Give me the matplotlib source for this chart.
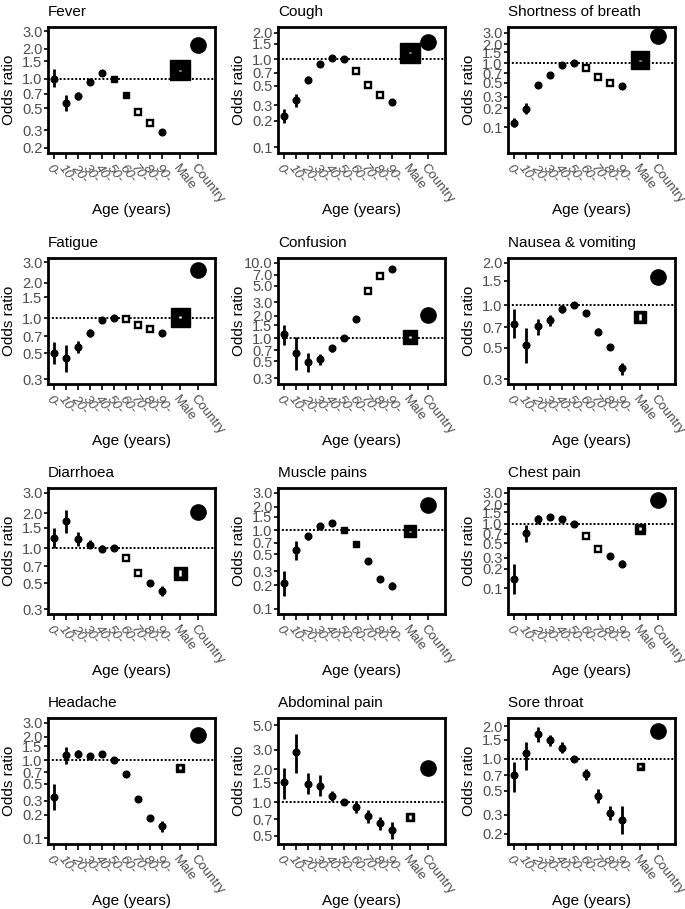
import matplotlib
matplotlib.use("Agg")
import matplotlib.pyplot as plt
from matplotlib.ticker import FixedLocator, NullLocator, FormatStrFormatter

plt.rcParams['font.family'] = ['Liberation Sans', 'DejaVu Sans']

age_groups = ["0-", "10-", "20-", "30-", "40-", "50-", "60-", "70-", "80-", "90-"]
extra_labels = ["Male", "Country"]
symptoms = ["Fever", "Cough", "Shortness of breath", "Fatigue", "Confusion",
            "Nausea & vomiting", "Diarrhoea", "Muscle pains", "Chest pain",
            "Headache", "Abdominal pain", "Sore throat"]

# odds ratios by age group (50- is reference), with lower / upper CI
fever_or = [1.0, 0.57, 0.67, 0.925, 1.13, 1.0, 0.69, 0.46, 0.354, 0.289]
fever_lo = [0.83, 0.47, 0.61, 0.86, 1.06, 1.0, 0.67, 0.44, 0.34, 0.275]
fever_hi = [1.26, 0.69, 0.73, 0.98, 1.2, 1.0, 0.71, 0.48, 0.37, 0.3]

cough_or = [0.228, 0.34, 0.584, 0.886, 1.026, 1.0, 0.738, 0.51, 0.395, 0.329]
cough_lo = [0.19, 0.286, 0.535, 0.826, 0.97, 1.0, 0.72, 0.49, 0.38, 0.315]
cough_hi = [0.27, 0.405, 0.636, 0.94, 1.09, 1.0, 0.76, 0.53, 0.41, 0.345]

sob_or = [0.118, 0.197, 0.46, 0.66, 0.93, 1.0, 0.857, 0.607, 0.49, 0.446]
sob_lo = [0.1, 0.16, 0.43, 0.63, 0.9, 1.0, 0.83, 0.58, 0.47, 0.43]
sob_hi = [0.142, 0.24, 0.5, 0.69, 0.96, 1.0, 0.88, 0.63, 0.51, 0.46]

fatigue_or = [0.5, 0.451, 0.562, 0.742, 0.955, 1.0, 0.987, 0.88, 0.8, 0.742]
fatigue_lo = [0.403, 0.346, 0.5, 0.69, 0.9, 1.0, 0.95, 0.85, 0.77, 0.7]
fatigue_hi = [0.62, 0.588, 0.63, 0.8, 1.02, 1.0, 1.02, 0.91, 0.83, 0.79]

confusion_or = [1.13, 0.647, 0.49, 0.53, 0.738, 1.0, 1.8, 4.22, 6.74, 8.4]
confusion_lo = [0.816, 0.38, 0.36, 0.45, 0.66, 1.0, 1.65, 4.0, 6.4, 7.8]
confusion_hi = [1.53, 1.05, 0.647, 0.62, 0.82, 1.0, 1.95, 4.45, 7.1, 9.0]

nausea_or = [0.74, 0.525, 0.71, 0.782, 0.947, 1.0, 0.887, 0.653, 0.505, 0.358]
nausea_lo = [0.585, 0.388, 0.62, 0.72, 0.89, 1.0, 0.85, 0.62, 0.48, 0.32]
nausea_hi = [0.936, 0.69, 0.8, 0.85, 1.01, 1.0, 0.93, 0.69, 0.53, 0.39]

diarrhoea_or = [1.23, 1.73, 1.2, 1.076, 0.99, 1.0, 0.825, 0.612, 0.5, 0.43]
diarrhoea_lo = [1.0, 1.36, 1.05, 1.0, 0.93, 1.0, 0.8, 0.59, 0.48, 0.39]
diarrhoea_hi = [1.5, 2.16, 1.37, 1.17, 1.06, 1.0, 0.85, 0.64, 0.52, 0.47]

muscle_or = [0.215, 0.566, 0.84, 1.136, 1.24, 1.0, 0.676, 0.406, 0.241, 0.198]
muscle_lo = [0.148, 0.42, 0.76, 1.06, 1.18, 1.0, 0.65, 0.39, 0.23, 0.18]
muscle_hi = [0.3, 0.73, 0.92, 1.22, 1.3, 1.0, 0.7, 0.42, 0.255, 0.22]

chest_or = [0.139, 0.718, 1.166, 1.27, 1.166, 1.0, 0.64, 0.41, 0.314, 0.242]
chest_lo = [0.082, 0.52, 1.0, 1.18, 1.08, 1.0, 0.6, 0.39, 0.3, 0.215]
chest_hi = [0.234, 0.94, 1.35, 1.38, 1.25, 1.0, 0.68, 0.43, 0.33, 0.27]

headache_or = [0.334, 1.16, 1.19, 1.136, 1.19, 1.0, 0.663, 0.315, 0.18, 0.141]
headache_lo = [0.23, 0.88, 1.07, 1.05, 1.12, 1.0, 0.63, 0.3, 0.165, 0.118]
headache_hi = [0.49, 1.48, 1.33, 1.23, 1.27, 1.0, 0.7, 0.33, 0.195, 0.168]

abdominal_or = [1.52, 2.86, 1.48, 1.42, 1.14, 1.0, 0.9, 0.75, 0.645, 0.565]
abdominal_lo = [1.07, 1.85, 1.19, 1.15, 1.02, 1.0, 0.8, 0.65, 0.56, 0.47]
abdominal_hi = [2.06, 4.16, 1.85, 1.77, 1.28, 1.0, 1.02, 0.86, 0.74, 0.66]

sore_or = [0.7, 1.13, 1.69, 1.5, 1.27, 1.0, 0.715, 0.45, 0.31, 0.268]
sore_lo = [0.49, 0.79, 1.43, 1.32, 1.13, 1.0, 0.63, 0.39, 0.27, 0.2]
sore_hi = [0.93, 1.43, 1.98, 1.68, 1.43, 1.0, 0.8, 0.52, 0.36, 0.36]

male_or = [1.215, 1.19, 1.13, 1.03, 1.05, 0.826, 0.612, 0.97, 0.84, 0.80, 0.736, 0.85]
male_lo = [1.2, 1.175, 1.11, 1.01, 1.02, 0.79, 0.58, 0.95, 0.8, 0.77, 0.7, 0.83]
male_hi = [1.23, 1.205, 1.15, 1.05, 1.08, 0.87, 0.65, 0.99, 0.88, 0.84, 0.77, 0.87]
country_or = [2.18, 1.56, 2.65, 2.58, 2.03, 1.59, 2.05, 2.08, 2.34, 2.13, 2.05, 1.81]

yticks = [
    [0.2, 0.3, 0.5, 0.7, 1.0, 1.5, 2.0, 3.0],
    [0.1, 0.2, 0.3, 0.5, 0.7, 1.0, 1.5, 2.0],
    [0.1, 0.2, 0.3, 0.5, 0.7, 1.0, 1.5, 2.0, 3.0],
    [0.3, 0.5, 0.7, 1.0, 1.5, 2.0, 3.0],
    [0.3, 0.5, 0.7, 1.0, 1.5, 2.0, 3.0, 5.0, 7.0, 10.0],
    [0.3, 0.5, 0.7, 1.0, 1.5, 2.0],
    [0.3, 0.5, 0.7, 1.0, 1.5, 2.0, 3.0],
    [0.1, 0.2, 0.3, 0.5, 0.7, 1.0, 1.5, 2.0, 3.0],
    [0.1, 0.2, 0.3, 0.5, 0.7, 1.0, 1.5, 2.0, 3.0],
    [0.1, 0.2, 0.3, 0.5, 0.7, 1.0, 1.5, 2.0, 3.0],
    [0.5, 0.7, 1.0, 1.5, 2.0, 3.0, 5.0],
    [0.2, 0.3, 0.5, 0.7, 1.0, 1.5, 2.0],
]
ylims = [(0.178, 3.3), (0.086, 2.32), (0.04, 3.7), (0.272, 3.27), (0.25, 11.6),
         (0.277, 2.17), (0.272, 3.31), (0.086, 3.47), (0.04, 3.58), (0.084, 3.47),
         (0.42, 5.8), (0.16, 2.4)]

ors = [fever_or, cough_or, sob_or, fatigue_or, confusion_or, nausea_or,
       diarrhoea_or, muscle_or, chest_or, headache_or, abdominal_or, sore_or]
los = [fever_lo, cough_lo, sob_lo, fatigue_lo, confusion_lo, nausea_lo,
       diarrhoea_lo, muscle_lo, chest_lo, headache_lo, abdominal_lo, sore_lo]
his = [fever_hi, cough_hi, sob_hi, fatigue_hi, confusion_hi, nausea_hi,
       diarrhoea_hi, muscle_hi, chest_hi, headache_hi, abdominal_hi, sore_hi]

# styling: which age groups drawn as open boxes, size of Male square (px)
hollow = [[7, 8], [6, 7, 8], [6, 7, 8], [6, 7, 8], [7, 8], [], [6, 7], [], [6, 7], [], [], []]
male_px = [20, 20, 18, 19, 14, 12, 13, 12, 10, 8, 8, 7]

W, H = 685, 909
fig = plt.figure(figsize=(W / 100, H / 100), dpi=100)
col_x = [48, 278, 508]
row_top = [27, 258, 488, 718]
ax_w, ax_h = 167, 126

xpos = list(range(10)) + [10.5, 12]
grey = "#4d4d4d"

for k, name in enumerate(symptoms):
    r, c = divmod(k, 3)
    ax = fig.add_axes([col_x[c] / W, 1 - (row_top[r] + ax_h) / H, ax_w / W, ax_h / H])
    ax.set_yscale("log")
    ax.set_ylim(*ylims[k])
    ax.set_xlim(-0.5, 13.4)
    ax.axhline(1.0, color="black", ls=(0, (1, 1)), lw=1.4, zorder=1)

    o, lo, hi = ors[k], los[k], his[k]
    for i in range(10):
        ax.plot([i, i], [lo[i], hi[i]], color="black", lw=2.0, solid_capstyle="butt", zorder=2)
        if i in hollow[k]:
            ax.plot(i, o[i], marker="s", ms=4.6, mfc="white", mec="black", mew=1.7, zorder=3)
        elif i in (5, 6) and name in ("Fever", "Muscle pains"):
            ax.plot(i, o[i], marker="s", ms=5, color="black", zorder=3)
        else:
            ax.plot(i, o[i], marker="o", ms=4.8, color="black", zorder=3)

    ax.plot(xpos[10], male_or[k], marker="s", ms=male_px[k] * 0.72, color="black", zorder=3)
    ax.plot([xpos[10]] * 2, [male_lo[k], male_hi[k]], color="white", lw=1.8,
            solid_capstyle="butt", zorder=4)
    ax.plot(xpos[11], country_or[k], marker="o", ms=11, color="black", zorder=3)

    ax.yaxis.set_major_locator(FixedLocator(yticks[k]))
    ax.yaxis.set_minor_locator(NullLocator())
    ax.yaxis.set_major_formatter(FormatStrFormatter("%.1f"))
    ax.set_xticks(xpos)
    ax.set_xticklabels(age_groups + extra_labels, rotation=-52, ha="left", va="top",
                       rotation_mode="anchor", color=grey, fontsize=9.5)
    for lab in ax.get_xticklabels()[:10]:
        lab.set_style("italic")
    ax.tick_params(axis="y", labelsize=10.5, colors="black", labelcolor=grey, length=3, width=1.2, pad=1)
    ax.tick_params(axis="x", length=4.5, width=1.2, pad=2)
    for sp in ax.spines.values():
        sp.set_linewidth(2)
        sp.set_color("black")

    ax.set_ylabel("Odds ratio", fontsize=11)
    ax.yaxis.set_label_coords(-32 / ax_w, 0.5)
    fig.text((col_x[c] + ax_w / 2) / W, 1 - (row_top[r] + ax_h + 57) / H, "Age (years)",
             ha="center", va="center", fontsize=11)
    ax.set_title(name, loc="left", fontsize=11, pad=8)

plt.savefig("out.png", dpi=100)
